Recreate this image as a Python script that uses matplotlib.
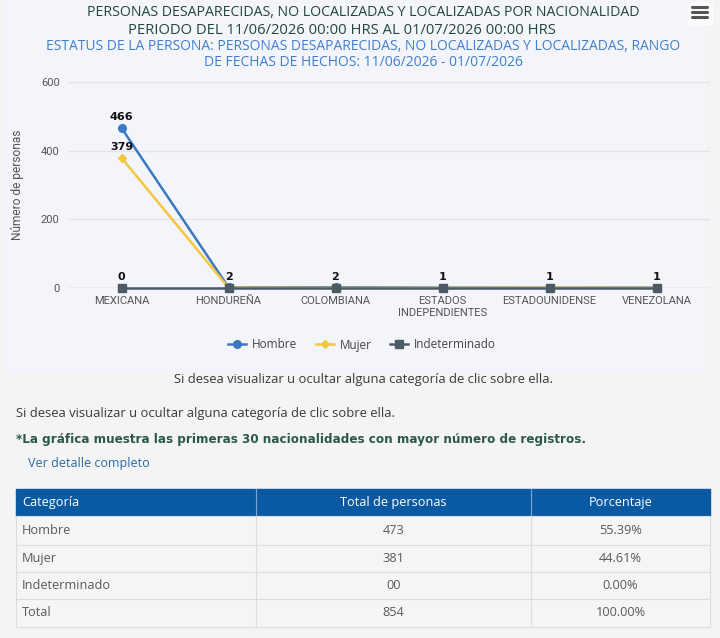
import matplotlib.pyplot as plt
import matplotlib.patches as mpatches
import numpy as np

# Data -----
nacionalidades = ['MEXICANA', 'HONDUREÑA', 'COLOMBIANA', 'ESTADOS\nINDEPENDIENTES', 'ESTADOUNIDENSE', 'VENEZOLANA']
hombre = [466, 2, 2, 1, 1, 1]
mujer = [379, 1, 0, 0, 1, 0]
indeterminado = [0, 0, 0, 0, 0, 0]

tabla_categorias = ['Hombre', 'Mujer', 'Indeterminado', 'Total']
tabla_totales = ['473', '381', '00', '854']
tabla_porcentajes = ['55.39%', '44.61%', '0.00%', '100.00%']

C_HOMBRE = '#3b78c2'
C_MUJER = '#f3c73f'
C_INDET = '#4b5b66'

W, H = 720, 638
fig = plt.figure(figsize=(W / 100, H / 100), dpi=100)
fig.patch.set_facecolor('#f4f4f4')

# Overlay axes in pixel coords for the page decorations -----
bg = fig.add_axes([0, 0, 1, 1], zorder=0)
bg.set_xlim(0, W)
bg.set_ylim(H, 0)
bg.axis('off')
bg.add_patch(mpatches.Rectangle((5, 0), 700, 370, color='#f4f5fa', zorder=0))

# Titles
bg.text(363, 12, 'PERSONAS DESAPARECIDAS, NO LOCALIZADAS Y LOCALIZADAS POR NACIONALIDAD',
        ha='center', va='center', fontsize=10.2, color='#21473a', family='Open Sans')
bg.text(342, 30, 'PERIODO DEL 11/06/2026 00:00 HRS AL 01/07/2026 00:00 HRS',
        ha='center', va='center', fontsize=10.6, color='#21473a', family='Open Sans')
bg.text(363, 47, 'ESTATUS DE LA PERSONA: PERSONAS DESAPARECIDAS, NO LOCALIZADAS Y LOCALIZADAS, RANGO',
        ha='center', va='center', fontsize=10, color='#3f7fd0', family='Open Sans')
bg.text(363, 62, 'DE FECHAS DE HECHOS: 11/06/2026 - 01/07/2026',
        ha='center', va='center', fontsize=10, color='#3f7fd0', family='Open Sans')

# Hamburger menu icon
bg.add_patch(mpatches.Rectangle((688, 2), 24, 22, color='#fbfbfd', zorder=1))
for yy in (7, 12, 17):
    bg.plot([692, 707], [yy, yy], color='#555555', lw=2.2, solid_capstyle='round', zorder=2)

# Chart -----
x = np.arange(len(nacionalidades))
ax = fig.add_axes([68 / W, 1 - 288 / H, (710 - 68) / W, (288 - 82) / H], zorder=2)
ax.set_facecolor('none')
ax.set_xlim(-0.5, len(nacionalidades) - 0.5)
ax.set_ylim(0, 600)
ax.set_yticks([0, 200, 400, 600])
ax.grid(axis='y', color='#e3e4ea', lw=1)
ax.set_axisbelow(True)
for s in ax.spines.values():
    s.set_visible(False)
ax.axhline(0, color='#cfd3dd', lw=1, zorder=1)
ax.tick_params(axis='both', length=0, labelsize=8, labelcolor='#555555', pad=6)
ax.set_xticks(x)
ax.set_xticklabels(nacionalidades, family='Roboto', linespacing=1.2)
for lbl in ax.get_yticklabels():
    lbl.set_family('Roboto')
ax.set_ylabel('Número de personas', fontsize=8.6, color='#555555', family='Roboto', labelpad=12)

ax.plot(x, hombre, color=C_HOMBRE, lw=1.8, marker='o', ms=5.5, label='Hombre', zorder=3, clip_on=False)
ax.plot(x, mujer, color=C_MUJER, lw=1.8, marker='D', ms=4, label='Mujer', zorder=4, clip_on=False)
ax.plot(x, indeterminado, color=C_INDET, lw=1.8, marker='s', ms=6, label='Indeterminado', zorder=5, clip_on=False)

# Data labels (overlapping ones are hidden, as in the original)
lab_kw = dict(ha='center', va='bottom', fontsize=8, fontweight='bold', color='#111111', family='DejaVu Sans', zorder=6)
ax.annotate(str(hombre[0]), (x[0], hombre[0]), xytext=(0, 4), textcoords='offset points', **lab_kw)
ax.annotate(str(mujer[0]), (x[0], mujer[0]), xytext=(0, 4), textcoords='offset points', **lab_kw)
ax.annotate(str(indeterminado[0]), (x[0], indeterminado[0]), xytext=(0, 4), textcoords='offset points', **lab_kw)
for i in x[1:]:
    ax.annotate(str(hombre[i]), (i, hombre[i]), xytext=(0, 4), textcoords='offset points', **lab_kw)

leg = fig.legend(loc='center', bbox_to_anchor=(362 / W, 1 - 345 / H), ncol=3, frameon=False,
                 labelcolor='#444444', handlelength=1.5, columnspacing=1.6, handletextpad=0.5,
                 prop={'family': 'Open Sans', 'size': 8.5})

# Texts below chart -----
bg.text(363, 379, 'Si desea visualizar u ocultar alguna categoría de clic sobre ella.',
        ha='center', va='center', fontsize=9.4, color='#3a3a3a', family='Open Sans')
bg.text(16, 414, 'Si desea visualizar u ocultar alguna categoría de clic sobre ella.',
        ha='left', va='center', fontsize=9.4, color='#3a3a3a', family='Open Sans')
bg.text(16, 440, '*La gráfica muestra las primeras 30 nacionalidades con mayor número de registros.',
        ha='left', va='center', fontsize=8.65, fontweight='bold', color='#2c5a46', family='DejaVu Sans')
bg.text(28, 463, 'Ver detalle completo', ha='left', va='center', fontsize=9, color='#2a6aa8', family='Open Sans')

# Table -----
col_edges = [16, 256, 531, 710]
head_top, head_bot = 489, 516
row_edges = [516, 545, 572, 599, 627]
bg.add_patch(mpatches.Rectangle((col_edges[0], head_top), col_edges[-1] - col_edges[0], head_bot - head_top,
                                color='#0a5aa3', zorder=1))
bg.add_patch(mpatches.Rectangle((col_edges[0], row_edges[0]), col_edges[-1] - col_edges[0],
                                row_edges[-1] - row_edges[0], facecolor='#f5f5f5', edgecolor='#dddddd', lw=0.8,
                                zorder=1))
for cx in col_edges[1:-1]:
    bg.plot([cx, cx], [head_top, head_bot], color='#7aa6d4', lw=0.8, zorder=2)
    bg.plot([cx, cx], [row_edges[0], row_edges[-1]], color='#dddddd', lw=0.8, zorder=2)
for ry in row_edges[1:-1]:
    bg.plot([col_edges[0], col_edges[-1]], [ry, ry], color='#dddddd', lw=0.8, zorder=2)

head_y = (head_top + head_bot) / 2
bg.text(22, head_y, 'Categoría', ha='left', va='center', fontsize=9.2, color='white', family='Open Sans', zorder=3)
bg.text((col_edges[1] + col_edges[2]) / 2, head_y, 'Total de personas', ha='center', va='center',
        fontsize=9.2, color='white', family='Open Sans', zorder=3)
bg.text((col_edges[2] + col_edges[3]) / 2, head_y, 'Porcentaje', ha='center', va='center',
        fontsize=9.2, color='white', family='Open Sans', zorder=3)
for i, cat in enumerate(tabla_categorias):
    ry = (row_edges[i] + row_edges[i + 1]) / 2
    bg.text(22, ry, cat, ha='left', va='center', fontsize=9.2, color='#5a5a5a', family='Open Sans', zorder=3)
    bg.text((col_edges[1] + col_edges[2]) / 2, ry, tabla_totales[i], ha='center', va='center',
            fontsize=9.2, color='#5a5a5a', family='Open Sans', zorder=3)
    bg.text((col_edges[2] + col_edges[3]) / 2, ry, tabla_porcentajes[i], ha='center', va='center',
            fontsize=9.2, color='#5a5a5a', family='Open Sans', zorder=3)

fig.savefig('out.png', dpi=100, facecolor=fig.get_facecolor())
